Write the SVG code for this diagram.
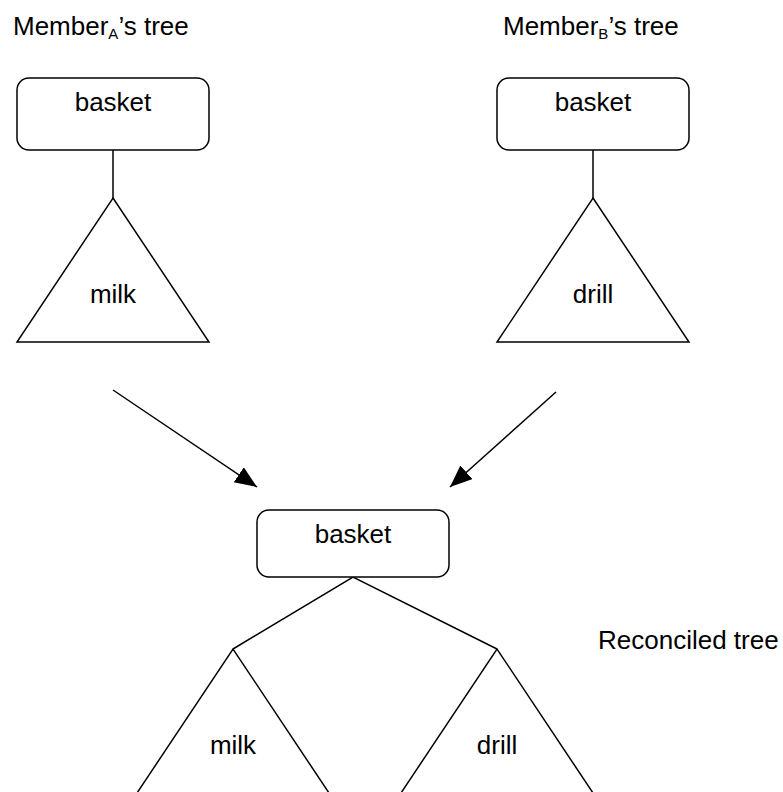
<svg xmlns="http://www.w3.org/2000/svg" width="783" height="792" viewBox="0 0 783 792">
  <style>
    .box { fill: #ffffff; stroke: #000000; stroke-width: 1.5; }
    .tri { fill: none; stroke: #000000; stroke-width: 1.5; stroke-linejoin: miter; }
    .edge { fill: none; stroke: #000000; stroke-width: 1.5; }
    .lbl { font-family: "Liberation Sans", Arial, sans-serif; font-size: 26px; fill: #000000; }
    .mid { text-anchor: middle; }
    .sub { font-size: 15px; }
  </style>
  <defs>
    <marker id="arrowhead" markerUnits="userSpaceOnUse" markerWidth="24" markerHeight="20" refX="22" refY="9" orient="auto">
      <polygon points="0,0 22,9 0,18" fill="#000000"/>
    </marker>
  </defs>
  <rect width="783" height="792" fill="#ffffff"/>

  <!-- titles -->
  <text class="lbl" x="13" y="35">Member<tspan class="sub" dy="4">A</tspan><tspan dy="-4">’s tree</tspan></text>
  <text class="lbl" x="503" y="35">Member<tspan class="sub" dy="4">B</tspan><tspan dy="-4">’s tree</tspan></text>
  <text class="lbl" x="598" y="649">Reconciled tree</text>

  <!-- connectors -->
  <g id="connectors">
    <line class="edge" x1="113" y1="150" x2="113" y2="198"/>
    <line class="edge" x1="593" y1="150" x2="593" y2="198"/>
    <line class="edge" x1="113" y1="390" x2="257" y2="487" marker-end="url(#arrowhead)"/>
    <line class="edge" x1="556" y1="392" x2="450" y2="487" marker-end="url(#arrowhead)"/>
    <polyline class="edge" points="233,649 353,577 497,649"/>
  </g>

  <!-- member A tree -->
  <g id="basketA">
    <rect class="box" x="17" y="78" width="192" height="72" rx="12" ry="12"/>
    <text class="lbl mid" x="113" y="111">basket</text>
  </g>
  <g id="milkA">
    <polygon class="tri" points="113,198 209,342 17,342"/>
    <text class="lbl mid" x="113" y="303">milk</text>
  </g>

  <!-- member B tree -->
  <g id="basketB">
    <rect class="box" x="497" y="78" width="192" height="72" rx="12" ry="12"/>
    <text class="lbl mid" x="593" y="111">basket</text>
  </g>
  <g id="drillB">
    <polygon class="tri" points="593,198 689,342 497,342"/>
    <text class="lbl mid" x="593" y="303">drill</text>
  </g>

  <!-- reconciled tree -->
  <g id="basketR">
    <rect class="box" x="257" y="510" width="192" height="67" rx="12" ry="12"/>
    <text class="lbl mid" x="353" y="543">basket</text>
  </g>
  <g id="milkR">
    <polyline class="tri" points="137,793 233,649 329,793"/>
    <text class="lbl mid" x="233" y="754">milk</text>
  </g>
  <g id="drillR">
    <polyline class="tri" points="401,793 497,649 593,793"/>
    <text class="lbl mid" x="497" y="754">drill</text>
  </g>
</svg>
